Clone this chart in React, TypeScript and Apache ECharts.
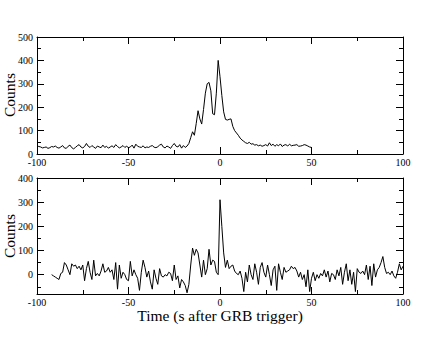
import React, { useEffect, useRef } from "react";
import * as echarts from "echarts";

// Top panel: counts per 1 s bin, t = -100 .. 50
const topStart = -100;
const topCounts = [
  35, 32, 30, 26, 28, 30, 24, 27, 32, 30,
  34, 28, 25, 30, 36, 26, 24, 33, 38, 27,
  22, 28, 35, 40, 30, 26, 32, 45, 33, 28,
  36, 30, 24, 34, 30, 27, 38, 28, 33, 25,
  30, 35, 28, 40, 32, 26, 30, 36, 28, 33,
  27, 30, 38, 25, 42, 33, 30, 28, 35, 26,
  30, 28, 33, 36, 29, 27, 31, 38, 42, 30,
  26, 34, 30, 24, 36, 45, 33, 30, 40, 25,
  36, 28, 34,
  45, 70, 95, 80, 130, 185, 150, 128, 190, 260, 300, 306, 270, 172, 168, 260, 400,
  330, 250, 180, 148, 145, 148, 150, 118, 100, 90, 80, 68, 60, 54, 48, 45, 50, 42,
  44, 38, 40, 35, 38, 33, 36, 40, 34, 48, 36, 42, 33, 40, 35, 43, 32, 38, 40, 34,
  42, 35, 37, 38, 40, 33, 34, 36, 40, 38, 34, 30, 28,
];

// Bottom panel: counts per 1 s bin, t = -92 .. 100
const bottomStart = -92;
const bottomCounts = [
  0, -5, -10, -15, -20, 5, 10, 50, 40, 20,
  0, 45, 35, 40, 25, 35, 20, 40, -25, 25,
  55, 10, -20, 60, -5, 5, -5, 15, 45, 10,
  15, 30, 10, 20, -20, 50, -60, 40, -15, 10,
  0, -20, -25, 55, -5, 20, 0, -15, -65, 10,
  60, 30, -10, 15, -30, -60, 20, -15, -40, 25,
  -5, -10, 0, -5, 10, 5, -25, 40, -20, -5,
  -55, -20, -30, -45, -75, -40, 40, 110, 80, 105,
  90, 40, -10, 60, 0, 25, 105, 40, 60, 55,
  10, 0, 310, 200, 90, 30, 60, 25, 35, 40,
  15, 5, 0, 15, -15, -70, 10, -30, 40, 0,
  -20, 45, 10, -40, 30, 50, 10, -10, 40, 0,
  -45, 20, 35, -65, 45, 10, -20, 30, 10, 15,
  20, 35, 25, 30, 15, -10, 10, -20, 0, -50,
  20, -70, -15, 10, -25, 0, -15, 5, -5, 20,
  -10, 15, -30, 5, 0, -20, 20, -5, 30, -40,
  10, 45, -25, 20, -40, 10, -70, 25, 10, 5,
  15, 0, 40, -20, 35, -45, 45, -10, 20, 30,
  50, 75, 30, 5, 10, 0, 15, -5, -15, 10,
  45, 20, 35,
];

const xTicks = { min: -100, max: 100, interval: 50 };
const topY = { min: 0, max: 500, interval: 100 };
const bottomYLabels = [0, 100, 200, 300, 400];
const bottomYMinor = [-50, 50, 150, 250, 350];
const bottomYRange = { min: -80, max: 400 };

const FONT = "'Liberation Serif', 'Times New Roman', serif";

export default function App() {
  const ref = useRef<HTMLDivElement>(null);
  useEffect(() => {
    if (!ref.current) return;
    const chart = echarts.init(ref.current, null, { renderer: "svg" });
    const topData = topCounts.map((v, i) => [topStart + i, v]);
    const bottomData = bottomCounts.map((v, i) => [bottomStart + i, v]);
    const line = { show: true, onZero: false, lineStyle: { color: "#000", width: 1 } };
    const noLine = { show: false, onZero: false };
    const tick = () => ({ show: true, inside: true, length: 7, lineStyle: { color: "#000" } });
    const minor = { show: true, splitNumber: 2, length: 4, lineStyle: { color: "#000" } };
    const label = { color: "#000", fontFamily: FONT, fontSize: 10 };
    const grids = [
      { left: 37, top: 37, width: 366, height: 117 },
      { left: 37, top: 178, width: 366, height: 116 },
    ];
    const xAxes: any[] = [];
    [0, 1].forEach((g) => {
      xAxes.push({
        type: "value", gridIndex: g, position: "bottom", ...xTicks,
        axisLine: line, axisTick: tick(), minorTick: minor, splitLine: { show: false },
        axisLabel: { ...label, margin: 3 },
      });
      xAxes.push({
        type: "value", gridIndex: g, position: "top", ...xTicks,
        axisLine: line, axisTick: tick(), minorTick: minor, splitLine: { show: false },
        axisLabel: { show: false },
      });
    });
    const yAxes: any[] = [
      {
        type: "value", gridIndex: 0, position: "left", ...topY,
        axisLine: line, axisTick: tick(), minorTick: minor, splitLine: { show: false },
        axisLabel: { ...label, margin: 4 },
      },
      {
        type: "value", gridIndex: 0, position: "right", ...topY,
        axisLine: line, axisTick: tick(), minorTick: minor, splitLine: { show: false },
        axisLabel: { show: false },
      },
      {
        type: "value", gridIndex: 1, position: "left", ...bottomYRange,
        axisLine: line, splitLine: { show: false },
        axisTick: { ...tick(), customValues: bottomYLabels },
        axisLabel: { ...label, margin: 4, customValues: bottomYLabels },
      },
      {
        type: "value", gridIndex: 1, position: "right", ...bottomYRange,
        axisLine: line, splitLine: { show: false },
        axisTick: { ...tick(), customValues: bottomYLabels },
        axisLabel: { show: false },
      },
      {
        type: "value", gridIndex: 1, position: "left", ...bottomYRange,
        axisLine: noLine, splitLine: { show: false },
        axisTick: { ...tick(), length: 4, customValues: bottomYMinor },
        axisLabel: { show: false, customValues: bottomYMinor },
      },
      {
        type: "value", gridIndex: 1, position: "right", ...bottomYRange,
        axisLine: noLine, splitLine: { show: false },
        axisTick: { ...tick(), length: 4, customValues: bottomYMinor },
        axisLabel: { show: false, customValues: bottomYMinor },
      },
    ];
    chart.setOption({
      animation: false,
      backgroundColor: "#fff",
      grid: grids,
      xAxis: xAxes,
      yAxis: yAxes,
      series: [
        {
          type: "line", xAxisIndex: 0, yAxisIndex: 0, data: topData,
          showSymbol: false, lineStyle: { color: "#000", width: 1 }, silent: true,
        },
        {
          type: "line", xAxisIndex: 2, yAxisIndex: 2, data: bottomData,
          showSymbol: false, lineStyle: { color: "#000", width: 1 }, silent: true,
        },
      ],
      graphic: [
        {
          type: "text", x: 9, y: 95, rotation: Math.PI / 2,
          style: { text: "Counts", fill: "#000", font: `15.5px ${FONT}`, align: "center", verticalAlign: "middle" },
        },
        {
          type: "text", x: 9, y: 236, rotation: Math.PI / 2,
          style: { text: "Counts", fill: "#000", font: `15.5px ${FONT}`, align: "center", verticalAlign: "middle" },
        },
        {
          type: "text", x: 220, y: 315,
          style: { text: "Time (s after GRB trigger)", fill: "#000", font: `15.5px ${FONT}`, align: "center", verticalAlign: "middle" },
        },
      ],
    });
    return () => chart.dispose();
  }, []);
  return <div ref={ref} style={{ width: 436, height: 337, position: "absolute", left: 0, top: 0 }} />;
}
